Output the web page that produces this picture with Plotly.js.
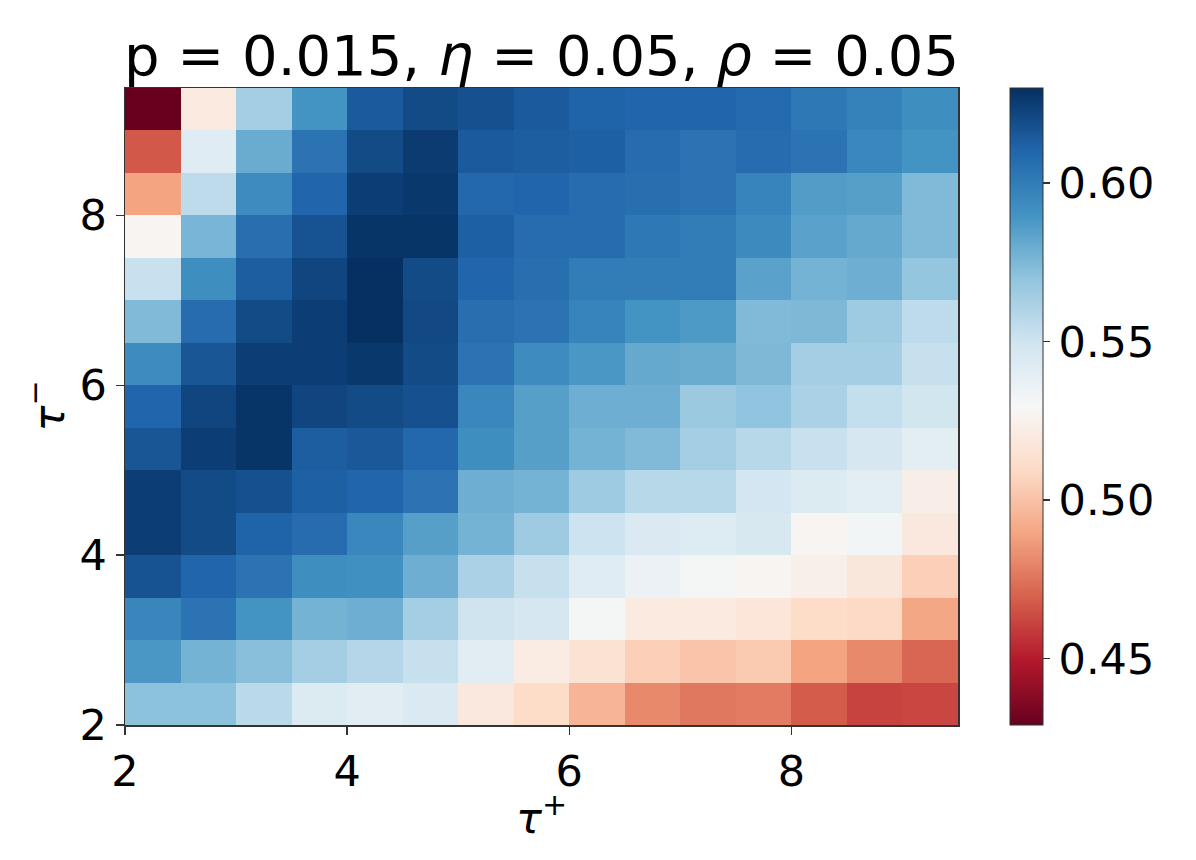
<!DOCTYPE html>
<html>
<head>
<meta charset="utf-8">
<script src="https://cdn.plot.ly/plotly-3.0.1.min.js"></script>
<style>html,body{margin:0;padding:0;background:#fff;}#chart{width:1196px;height:860px;}</style>
</head>
<body>
<div id="chart"></div>
<script>
// Cell edges along each axis
const tauPlusEdges  = [2, 2.5, 3, 3.5, 4, 4.5, 5, 5.5, 6, 6.5, 7, 7.5, 8, 8.5, 9, 9.5];
const tauMinusEdges = [2, 2.5, 3, 3.5, 4, 4.5, 5, 5.5, 6, 6.5, 7, 7.5, 8, 8.5, 9, 9.5];

// Rows of values, bottom (tau- = 2.0) to top (tau- = 9.0)
const row_2_0 = [0.571,0.571,0.557,0.544,0.541,0.545,0.519,0.510,0.495,0.481,0.476,0.477,0.468,0.461,0.462];
const row_2_5 = [0.588,0.577,0.572,0.564,0.559,0.553,0.541,0.521,0.515,0.505,0.501,0.503,0.489,0.481,0.471];
const row_3_0 = [0.596,0.604,0.590,0.577,0.579,0.564,0.550,0.547,0.531,0.520,0.520,0.517,0.510,0.509,0.490];
const row_3_5 = [0.617,0.610,0.604,0.592,0.591,0.579,0.562,0.553,0.542,0.536,0.531,0.527,0.524,0.518,0.505];
const row_4_0 = [0.625,0.620,0.611,0.607,0.595,0.585,0.577,0.566,0.551,0.545,0.543,0.546,0.527,0.532,0.519];
const row_4_5 = [0.625,0.620,0.618,0.612,0.610,0.604,0.579,0.577,0.566,0.558,0.558,0.548,0.544,0.540,0.523];
const row_5_0 = [0.616,0.625,0.628,0.613,0.615,0.609,0.592,0.585,0.577,0.574,0.564,0.558,0.552,0.547,0.540];
const row_5_5 = [0.610,0.622,0.628,0.622,0.620,0.618,0.595,0.585,0.579,0.579,0.567,0.570,0.562,0.554,0.549];
const row_6_0 = [0.593,0.616,0.625,0.625,0.627,0.620,0.604,0.593,0.588,0.581,0.580,0.575,0.564,0.564,0.553];
const row_6_5 = [0.574,0.607,0.620,0.625,0.630,0.621,0.606,0.604,0.597,0.590,0.587,0.574,0.575,0.566,0.556];
const row_7_0 = [0.552,0.592,0.613,0.622,0.630,0.620,0.610,0.606,0.600,0.600,0.600,0.584,0.577,0.579,0.569];
const row_7_5 = [0.527,0.576,0.606,0.617,0.628,0.628,0.612,0.607,0.607,0.602,0.600,0.594,0.584,0.581,0.574];
const row_8_0 = [0.489,0.556,0.593,0.610,0.625,0.627,0.609,0.610,0.607,0.606,0.604,0.597,0.586,0.585,0.574];
const row_8_5 = [0.467,0.542,0.580,0.604,0.620,0.626,0.614,0.613,0.612,0.607,0.604,0.607,0.604,0.595,0.590];
const row_9_0 = [0.429,0.520,0.564,0.590,0.614,0.620,0.618,0.614,0.611,0.610,0.610,0.608,0.602,0.598,0.592];

const axisTicks = [2, 4, 6, 8];
const colorbarTicks = [0.45, 0.50, 0.55, 0.60];
const colorbarTickText = ["0.45", "0.50", "0.55", "0.60"];
const zMin = 0.429, zMax = 0.630;

const z = [row_2_0,row_2_5,row_3_0,row_3_5,row_4_0,row_4_5,row_5_0,row_5_5,
           row_6_0,row_6_5,row_7_0,row_7_5,row_8_0,row_8_5,row_9_0];

// matplotlib RdBu
const rdbu = [
  [0.0,'#67001f'],[0.1,'#b2182b'],[0.2,'#d6604d'],[0.3,'#f4a582'],[0.4,'#fddbc7'],
  [0.5,'#f7f7f7'],[0.6,'#d1e5f0'],[0.7,'#92c5de'],[0.8,'#4393c3'],[0.9,'#2166ac'],[1.0,'#053061']
];

const FONT = 'DejaVu Sans, sans-serif';
const TICK = 43;

const trace = {
  type: 'heatmap',
  x: tauPlusEdges,
  y: tauMinusEdges,
  z: z,
  zmin: zMin, zmax: zMax,
  colorscale: rdbu,
  zsmooth: false,
  colorbar: {
    x: 1.0624, xanchor: 'left', xref: 'paper',
    y: 0.5, yanchor: 'middle', len: 1, lenmode: 'fraction',
    thickness: 33, thicknessmode: 'pixels',
    outlinewidth: 1, outlinecolor: '#333',
    tickmode: 'array', tickvals: colorbarTicks, ticktext: colorbarTickText,
    ticks: 'outside', ticklen: 7, tickwidth: 1.3, tickcolor: '#333',
    tickfont: {family: FONT, size: TICK, color: '#000'},
    xpad: 0, ypad: 0
  }
};

const axisCommon = {
  tickmode: 'array', tickvals: axisTicks,
  ticks: 'outside', ticklen: 8, tickwidth: 1.5, tickcolor: '#333',
  tickfont: {family: FONT, size: TICK, color: '#000'},
  showline: true, mirror: true, linecolor: '#333', linewidth: 1.5,
  showgrid: false, zeroline: false
};

const layout = {
  width: 1196, height: 860,
  margin: {l: 125, r: 238, t: 88, b: 135},
  paper_bgcolor: '#fff', plot_bgcolor: '#fff',
  font: {family: FONT, color: '#000'},
  title: {
    text: 'p = 0.015, <i>η</i> = 0.05, <i>ρ</i> = 0.05',
    font: {family: FONT, size: 56, color: '#000'},
    x: 0.5, xref: 'paper', xanchor: 'center',
    y: 1, yref: 'paper', yanchor: 'bottom',
    pad: {b: 13}
  },
  xaxis: Object.assign({}, axisCommon, {range: [2, 9.5]}),
  yaxis: Object.assign({}, axisCommon, {range: [2, 9.5]}),
  annotations: [
    {
      text: '<i>τ</i><sup>+</sup>', xref: 'paper', yref: 'paper',
      x: 0.5, y: 0, xanchor: 'center', yanchor: 'middle', yshift: -90,
      showarrow: false, font: {family: FONT, size: 43, color: '#000'}
    },
    {
      text: '<i>τ</i><sup>−</sup>', xref: 'paper', yref: 'paper',
      x: 0, y: 0.5, xanchor: 'center', yanchor: 'middle', xshift: -80, yshift: 0,
      textangle: -90,
      showarrow: false, font: {family: FONT, size: 43, color: '#000'}
    }
  ]
};

Plotly.newPlot('chart', [trace], layout, {staticPlot: true, displayModeBar: false});
</script>
</body>
</html>
